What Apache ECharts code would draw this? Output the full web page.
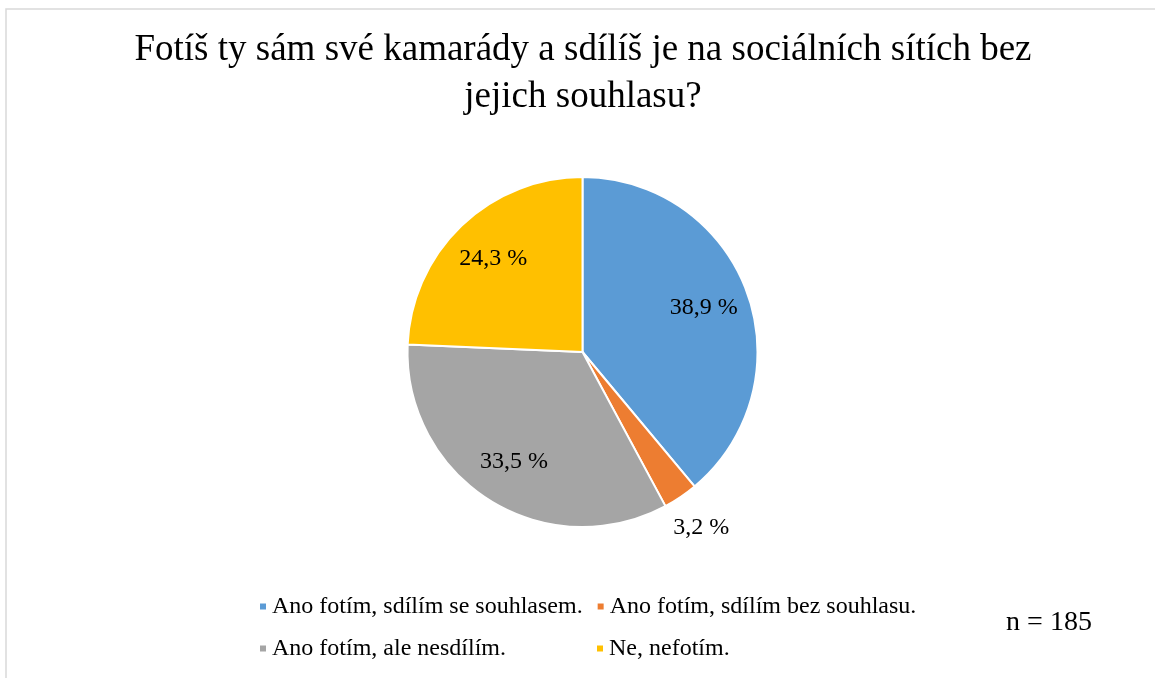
<!DOCTYPE html>
<html>
<head>
<meta charset="utf-8">
<script src="https://cdn.jsdelivr.net/npm/echarts@6/dist/echarts.min.js"></script>
<style>
  html, body { margin: 0; padding: 0; background: #fff; }
  #chart { width: 1155px; height: 678px; }
</style>
</head>
<body>
<div id="chart"></div>
<script>
const titleLines = ["Fotíš ty sám své kamarády a sdílíš je na sociálních sítích bez", "jejich souhlasu?"];
const categories = [
  "Ano fotím, sdílím se souhlasem.",
  "Ano fotím, sdílím bez souhlasu.",
  "Ano fotím, ale nesdílím.",
  "Ne, nefotím."
];
const values = [38.9, 3.2, 33.5, 24.3];
const colors = ["#5B9BD5", "#ED7D31", "#A5A5A5", "#FFC000"];
const sampleNote = "n = 185";

const serif = "'Liberation Serif', 'Times New Roman', serif";
const center = [582.5, 352];

const fmt = (v) => v.toFixed(1).replace(".", ",") + " %";

const chart = echarts.init(document.getElementById("chart"));

// transparent copies of the pie only carry the labels at the right distance
const labelSeries = (radius, showIdx) => ({
  type: "pie",
  silent: true,
  center: center,
  radius: [0, radius],
  startAngle: 90,
  clockwise: true,
  itemStyle: { color: "transparent" },
  labelLine: { show: false },
  emphasis: { disabled: true },
  label: {
    position: "inside",
    color: "#000",
    fontFamily: serif,
    fontSize: 24,
    formatter: (p) => fmt(p.value),
  },
  data: categories.map((name, i) => ({
    name,
    value: values[i],
    label: { show: showIdx.includes(i) },
  })),
});

chart.setOption({
  animation: false,
  color: colors,
  graphic: [
    {
      type: "rect",
      shape: { x: 6, y: 9, width: 1300, height: 800 },
      style: { fill: "none", stroke: "#d9d9d9", lineWidth: 1.5 },
      silent: true,
    },
    {
      type: "text",
      style: { text: titleLines[0], x: 583, y: 50, font: "37px " + serif, fill: "#000", textAlign: "center", textVerticalAlign: "middle" },
    },
    {
      type: "text",
      style: { text: titleLines[1], x: 583, y: 97, font: "37px " + serif, fill: "#000", textAlign: "center", textVerticalAlign: "middle" },
    },
    {
      type: "text",
      style: { text: sampleNote, x: 1049, y: 623, font: "28px " + serif, fill: "#000", textAlign: "center", textVerticalAlign: "middle" },
    },
  ],
  legend: {
    left: 258,
    top: 592,
    width: 700,
    padding: 0,
    itemGap: 13,
    itemWidth: 8,
    itemHeight: 8,
    icon: "rect",
    data: categories,
    textStyle: {
      fontFamily: serif,
      fontSize: 24,
      color: "#000",
      width: 310,
      lineHeight: 29,
    },
  },
  series: [
    {
      type: "pie",
      center: center,
      radius: [0, 175],
      startAngle: 90,
      clockwise: true,
      itemStyle: { borderColor: "#fff", borderWidth: 2 },
      label: { show: false },
      labelLine: { show: false },
      data: categories.map((name, i) => ({ name, value: values[i] })),
    },
    labelSeries(252, [0, 2, 3]),
    labelSeries(418, [1]),
  ],
});

window.addEventListener("resize", () => {
  chart.resize();
});
</script>
</body>
</html>
